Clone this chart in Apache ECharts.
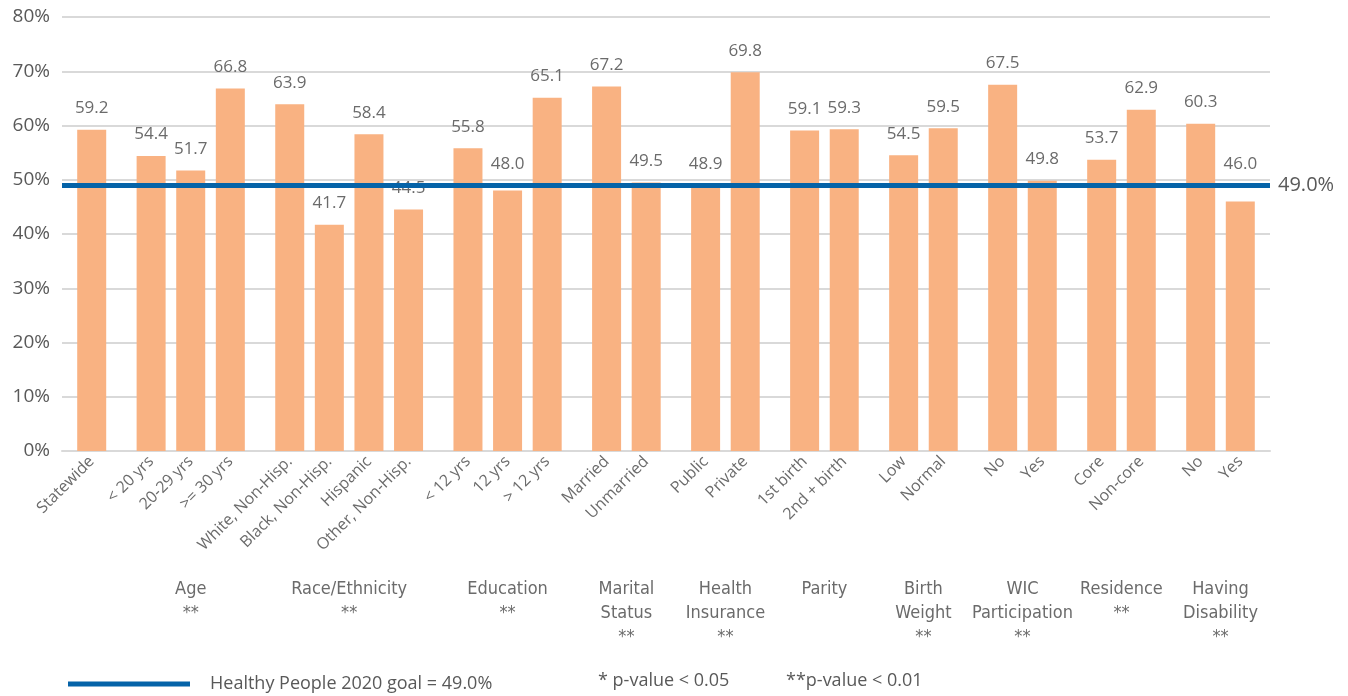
<!DOCTYPE html>
<html>
<head>
<meta charset="utf-8">
<script src="https://cdn.jsdelivr.net/npm/echarts@6/dist/echarts.min.js"></script>
<style>
  html, body { margin: 0; padding: 0; background: #fff; }
  #chart { width: 1348px; height: 696px; }
</style>
</head>
<body>
<div id="chart"></div>
<script>
// groups shown along the axis, with their significance marks
var groupNames = ['', 'Age\n**', 'Race/Ethnicity\n**', 'Education\n**', 'Marital\nStatus\n**',
  'Health\nInsurance\n**', 'Parity', 'Birth\nWeight\n**', 'WIC\nParticipation\n**',
  'Residence\n**', 'Having\nDisability\n**'];
var groupCats = [
  ['Statewide'],
  ['< 20 yrs', '20-29 yrs', '>= 30 yrs'],
  ['White, Non-Hisp.', 'Black, Non-Hisp.', 'Hispanic', 'Other, Non-Hisp.'],
  ['< 12 yrs', '12 yrs', '> 12 yrs'],
  ['Married', 'Unmarried'],
  ['Public', 'Private'],
  ['1st birth', '2nd + birth'],
  ['Low', 'Normal'],
  ['No', 'Yes'],
  ['Core', 'Non-core'],
  ['No', 'Yes']
];
var groupValues = [
  [59.2],
  [54.4, 51.7, 66.8],
  [63.9, 41.7, 58.4, 44.5],
  [55.8, 48.0, 65.1],
  [67.2, 49.5],
  [48.9, 69.8],
  [59.1, 59.3],
  [54.5, 59.5],
  [67.5, 49.8],
  [53.7, 62.9],
  [60.3, 46.0]
];
var goal = 49.0;
var yTicks = [0, 10, 20, 30, 40, 50, 60, 70, 80];

var gridTop = 17, gridBottom = 245;
var pxPerUnit = (696 - gridTop - gridBottom) / (yTicks[yTicks.length - 1] - yTicks[0]);

// lay out slots: one spacer slot between bars of a group, two between groups
var cats = [''], groupLabels = [''], values = [null];
groupCats.forEach(function (list, g) {
  if (g > 0) { cats.push('', ''); groupLabels.push('', ''); values.push(null, null); }
  var first = cats.length;
  list.forEach(function (c, i) {
    if (i > 0) { cats.push(''); groupLabels.push(''); values.push(null); }
    cats.push(c); groupLabels.push('');
    var v = groupValues[g][i];
    // labels just under the goal line get lifted above it
    var d = 13;
    if (v < goal && goal - v < 4) d += (goal - v) * pxPerUnit;
    values.push({ value: v, label: { distance: d } });
  });
  var last = cats.length - 1;
  groupLabels[(first + last) / 2] = groupNames[g];
});
cats.push(''); groupLabels.push(''); values.push(null);

var txt = '#595959';
var font = 'Open Sans';
var narrow = '"DejaVu Sans Condensed", "Open Sans"';
var myChart = echarts.init(document.getElementById('chart'));
var option = {
  animation: false,
  grid: { left: 62, right: 78, top: gridTop, bottom: gridBottom, containLabel: false },
  legend: {
    left: 63, top: 670,
    itemWidth: 122, itemHeight: 5,
    icon: 'rect',
    data: ['Healthy People 2020 goal = 49.0%'],
    textStyle: { color: txt, fontSize: 18, fontFamily: font, padding: [0, 0, 0, 15] }
  },
  graphic: [
    { type: 'text', left: 598, top: 672, style: { text: '* p-value < 0.05', fill: txt, fontSize: 18, fontFamily: font } },
    { type: 'text', left: 786, top: 672, style: { text: '**p-value < 0.01', fill: txt, fontSize: 18, fontFamily: font } }
  ],
  xAxis: [
    {
      type: 'category', data: cats, gridIndex: 0,
      axisLine: { lineStyle: { color: '#d9d9d9', width: 2 } },
      axisTick: { show: false },
      axisLabel: { interval: 0, rotate: 45, color: '#6b6b6b', fontSize: 16, fontFamily: font, margin: 8 }
    },
    {
      type: 'category', data: groupLabels, gridIndex: 0, position: 'bottom', offset: 118,
      axisLine: { show: false }, axisTick: { show: false },
      axisLabel: { interval: 0, color: '#6b6b6b', fontSize: 18, lineHeight: 24, fontFamily: narrow, margin: 8, verticalAlign: 'top' }
    }
  ],
  yAxis: {
    type: 'value', min: yTicks[0], max: yTicks[yTicks.length - 1], interval: 10,
    axisLine: { show: false }, axisTick: { show: false },
    splitLine: { lineStyle: { color: '#d9d9d9', width: 2 } },
    axisLabel: { formatter: '{value}%', color: txt, fontSize: 19, fontFamily: font, margin: 12 }
  },
  series: [
    {
      type: 'bar', xAxisIndex: 0, data: values, barWidth: 29,
      itemStyle: { color: '#F9B282' },
      label: {
        show: true, position: 'top', distance: 13, color: '#6b6b6b', fontSize: 17, fontFamily: font,
        formatter: function (p) { return p.value == null ? '' : p.value.toFixed(1); }
      },
      markLine: {
        silent: true, symbol: 'none', z: 5,
        lineStyle: { color: '#0563A8', width: 5, type: 'solid' },
        label: { position: 'end', formatter: goal.toFixed(1) + '%', color: txt, fontSize: 20, fontFamily: font, distance: 8 },
        data: [{ yAxis: goal }]
      }
    },
    {
      name: 'Healthy People 2020 goal = 49.0%', type: 'line', data: [],
      itemStyle: { color: '#0563A8' }, lineStyle: { color: '#0563A8' }
    }
  ]
};
myChart.setOption(option);
</script>
</body>
</html>
